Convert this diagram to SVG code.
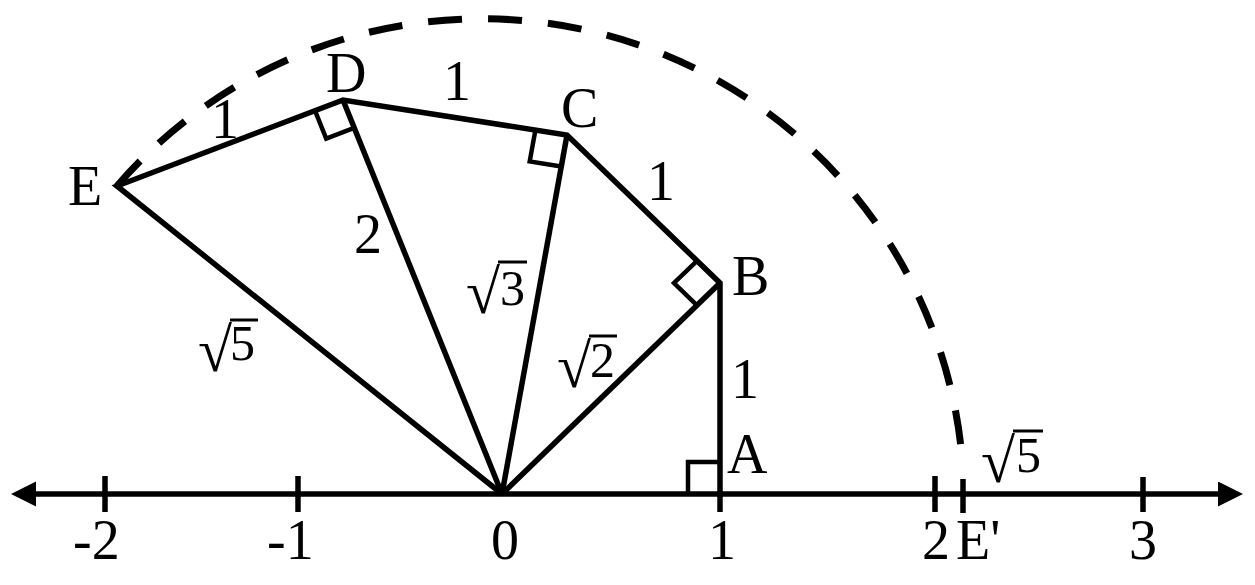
<svg xmlns="http://www.w3.org/2000/svg" width="1255" height="585" viewBox="0 0 1255 585">
<style>
.ln{fill:none;stroke:#000;stroke-width:5.5;stroke-linejoin:miter;stroke-linecap:butt}
.mk{fill:none;stroke:#000;stroke-width:4.5;stroke-linejoin:miter}
.tk{stroke:#000;stroke-width:5.5}
.arc{fill:none;stroke:#000;stroke-width:7;stroke-dasharray:34 26}
.lb{font-family:"Liberation Serif","Times New Roman",serif;font-size:56px;fill:#000}
.sq{font-family:"Liberation Serif","Times New Roman",serif;font-size:50px;fill:#000}
.rad{font-size:62px}
.vb{stroke:#000;stroke-width:3}
.mid{text-anchor:middle}
</style>
<defs>
<marker id="arr" markerUnits="userSpaceOnUse" markerWidth="26" markerHeight="26" refX="0" refY="12.5" orient="auto-start-reverse">
<path d="M0,0 L25,12.5 L0,25 z" fill="#000"/>
</marker>
</defs>

<g id="axis">
<line class="ln" x1="36" y1="494" x2="1218" y2="494" marker-start="url(#arr)" marker-end="url(#arr)"/>
<line class="tk" x1="105" y1="476" x2="105" y2="512"/>
<line class="tk" x1="298" y1="476" x2="298" y2="512"/>
<line class="tk" x1="720" y1="494" x2="720" y2="512"/>
<line class="tk" x1="935" y1="476" x2="935" y2="512"/>
<line class="tk" x1="963" y1="479" x2="963" y2="513"/>
<line class="tk" x1="1143" y1="477" x2="1143" y2="512"/>
<text class="lb" x="73" y="559">-2</text>
<text class="lb" x="267" y="559">-1</text>
<text class="lb mid" x="505" y="559">0</text>
<text class="lb mid" x="722" y="559">1</text>
<text class="lb mid" x="936" y="559">2</text>
<text class="lb mid" x="1143" y="559">3</text>
</g>

<g id="arc">
<path class="arc" d="M117,186 A482,482 0 0 1 963,470"/>
</g>

<g id="connectors">
<polyline class="ln" points="502,494 117,186 343,100 567,135 720,283 720,494"/>
<line class="ln" x1="502" y1="494" x2="343" y2="100"/>
<line class="ln" x1="502" y1="494" x2="567" y2="135"/>
<line class="ln" x1="502" y1="494" x2="720" y2="283"/>
</g>

<g id="right-angles">
<polyline class="mk" points="688,494 688,462 720,462"/>
<polyline class="mk" points="697,260.8 674,283 697,305.3"/>
<polyline class="mk" points="535.4,130.1 529.7,161.4 561.3,166.5"/>
<polyline class="mk" points="315,110.7 326.2,138.5 354.2,127.8"/>
</g>

<g id="node-O"><circle cx="502" cy="494" r="0" fill="none"/></g>
<g id="node-A"><text class="lb" x="727" y="473">A</text></g>
<g id="node-B"><text class="lb" x="732" y="295">B</text></g>
<g id="node-C"><text class="lb" x="561" y="127">C</text></g>
<g id="node-D"><text class="lb" x="326" y="92">D</text></g>
<g id="node-E"><text class="lb" x="68" y="205">E</text></g>
<g id="node-E-prime"><text class="lb" x="956" y="559">E'</text></g>

<g id="edge-labels">
<text class="lb mid" x="225" y="138">1</text>
<text class="lb mid" x="457" y="100">1</text>
<text class="lb mid" x="661" y="200">1</text>
<text class="lb mid" x="745" y="398">1</text>
<text class="lb mid" x="368" y="253">2</text>

<g id="sqrt5-left">
<text class="sq" x="198" y="371"><tspan class="rad">√</tspan><tspan x="230" y="360">5</tspan></text>
<line class="vb" x1="230" y1="320" x2="258" y2="320"/>
</g>
<g id="sqrt3">
<text class="sq" x="466" y="313"><tspan class="rad">√</tspan><tspan x="500" y="305">3</tspan></text>
<line class="vb" x1="498" y1="262" x2="527" y2="262"/>
</g>
<g id="sqrt2">
<text class="sq" x="557" y="387"><tspan class="rad">√</tspan><tspan x="590" y="377">2</tspan></text>
<line class="vb" x1="589" y1="336" x2="617" y2="336"/>
</g>
<g id="sqrt5-right">
<text class="sq" x="981" y="482"><tspan class="rad">√</tspan><tspan x="1016" y="472">5</tspan></text>
<line class="vb" x1="1013" y1="431" x2="1043" y2="431"/>
</g>
</g>
</svg>
